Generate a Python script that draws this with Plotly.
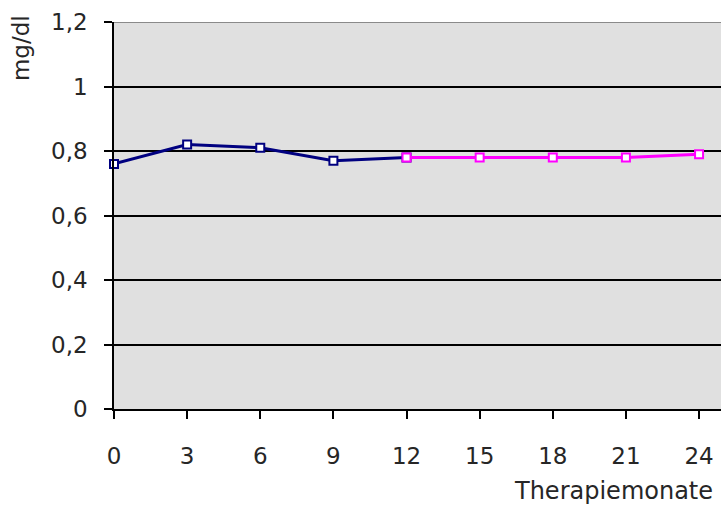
import plotly.graph_objects as go

# Creatinine course over therapy months
months_first = [0, 3, 6, 9, 12]
values_first = [0.76, 0.82, 0.81, 0.77, 0.78]
months_second = [12, 15, 18, 21, 24]
values_second = [0.78, 0.78, 0.78, 0.78, 0.79]

x_ticks = [0, 3, 6, 9, 12, 15, 18, 21, 24]
y_ticks = [0, 0.2, 0.4, 0.6, 0.8, 1.0, 1.2]
y_tick_text = ["0", "0,2", "0,4", "0,6", "0,8", "1", "1,2"]

FONT = "DejaVu Sans"
TXT = "#262626"

fig = go.Figure()
fig.add_trace(go.Scatter(
    x=months_first, y=values_first, mode="lines+markers",
    line=dict(color="#000080", width=3),
    marker=dict(symbol="square", size=8, color="white",
                line=dict(color="#000080", width=2)),
    showlegend=False, cliponaxis=False,
))
fig.add_trace(go.Scatter(
    x=months_second, y=values_second, mode="lines+markers",
    line=dict(color="#FF00FF", width=3),
    marker=dict(symbol="square", size=8, color="white",
                line=dict(color="#FF00FF", width=2)),
    showlegend=False, cliponaxis=False,
))

# grey frame line along the top of the plot area
fig.add_shape(type="line", xref="paper", yref="y", x0=0, x1=1, y0=1.2, y1=1.2,
              line=dict(color="#8a8a8a", width=2), layer="between")

fig.update_layout(
    width=721, height=509,
    margin=dict(l=114, r=0, t=22, b=100, pad=0),
    paper_bgcolor="white", plot_bgcolor="#E0E0E0",
    font=dict(family=FONT, size=23, color=TXT),
    xaxis=dict(range=[0, 24.9], tickvals=x_ticks, ticks="outside", ticklen=8,
               tickcolor="black", tickwidth=1.5, showgrid=False, zeroline=False,
               showline=True, linecolor="black", linewidth=1.5,
               ticklabelstandoff=18, tickfont=dict(family=FONT, size=23, color=TXT)),
    yaxis=dict(range=[0, 1.2], tickvals=y_ticks, ticktext=y_tick_text,
               ticks="outside", ticklen=8, tickcolor="black", tickwidth=1.5,
               showgrid=True, gridcolor="black", gridwidth=1.5, zeroline=False,
               showline=True, linecolor="black", linewidth=1.5,
               ticklabelstandoff=12, tickfont=dict(family=FONT, size=23, color=TXT)),
    annotations=[
        dict(text="mg/dl", xref="paper", yref="paper", x=-0.153, y=0.933,
             xanchor="center", yanchor="middle", textangle=-90, showarrow=False,
             font=dict(family=FONT, size=23, color=TXT)),
        dict(text="Therapiemonate", xref="paper", yref="paper", x=0.8237, y=-0.212,
             xanchor="center", yanchor="middle", showarrow=False,
             font=dict(family=FONT, size=24, color=TXT)),
    ],
)

fig.write_html("out.html")
